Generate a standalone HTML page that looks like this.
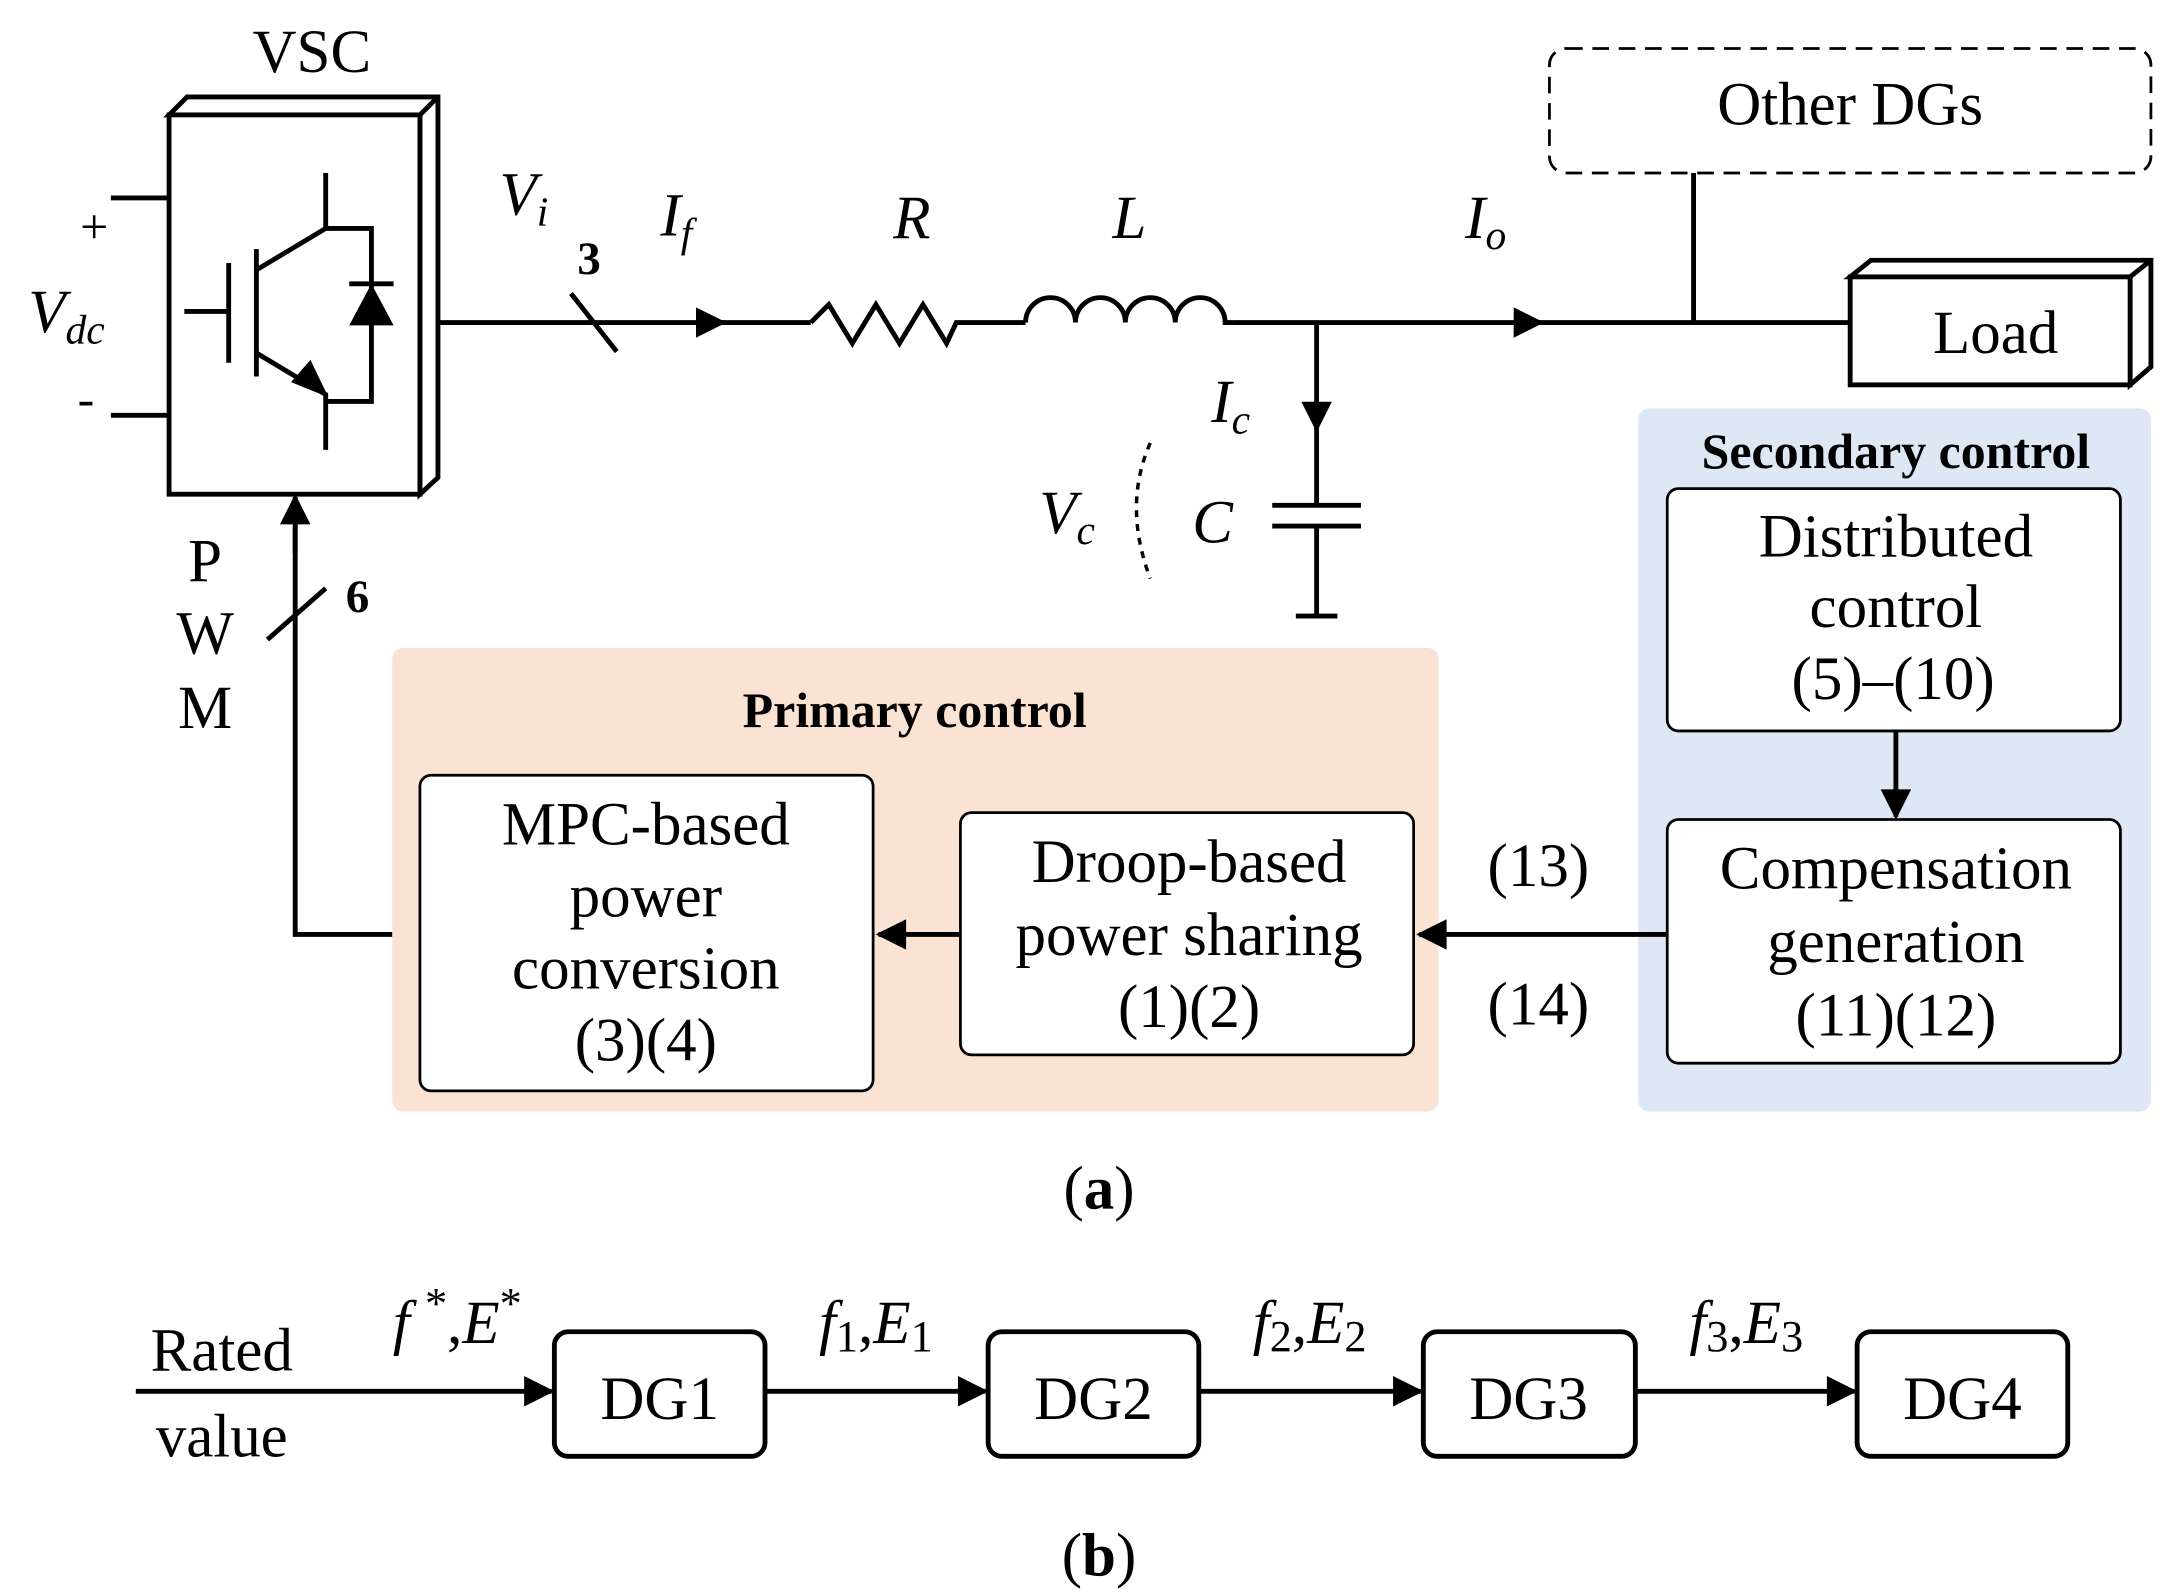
<!DOCTYPE html>
<html><head><meta charset="utf-8"><style>
html,body{margin:0;padding:0;background:#fff}
svg{display:block}
text{font-family:"Liberation Serif",serif;fill:#000}
</style></head><body>
<svg width="2162" height="1592" viewBox="0 0 1560 1150" preserveAspectRatio="none" xmlns="http://www.w3.org/2000/svg">
<defs>
<marker id="ar" viewBox="0 0 10 10" refX="9" refY="5" markerWidth="26" markerHeight="22" markerUnits="userSpaceOnUse" orient="auto"><path d="M0,0 L10,5 L0,10 z"/></marker>
</defs>
<g stroke="#000" stroke-width="3.5" fill="none">
<polygon points="122,83 135,70 316,70 316,345 303,357 303,83" fill="#fff"/>
<rect x="122" y="83" width="181" height="274" fill="#fff"/>
<line x1="303" y1="83" x2="316" y2="70"/>
<line x1="80" y1="143" x2="122" y2="143"/>
<line x1="80" y1="300" x2="122" y2="300"/>
<line x1="133" y1="225" x2="165" y2="225"/>
<line x1="165" y1="190" x2="165" y2="262"/>
<line x1="185" y1="180" x2="185" y2="272"/>
<polyline points="185,195 235,165 235,125"/>
<polyline points="185,255 235,285 235,325"/>
<polyline points="235,165 268,165 268,290 235,290"/>
<line x1="252" y1="205" x2="284" y2="205"/>
</g>
<polygon points="252,235 284,235 268,205" fill="#000"/>
<polygon points="237,287 210,276 224,260" fill="#000"/>
<g stroke="#000" stroke-width="3.5" fill="none">
<line x1="316" y1="233" x2="522" y2="233" marker-end="url(#ar)"/>
<line x1="515" y1="233" x2="585" y2="233"/>
<line x1="412" y1="212" x2="445" y2="254"/>
<polyline points="585,233 598,220 615,248 632,220 649,248 666,220 683,248 690,233 740,233"/>
<path d="M740,233 a18,18 0 0 1 36,0 a18,18 0 0 1 36,0 a18,18 0 0 1 36,0 a18,18 0 0 1 36,0 L890,233"/>
<line x1="890" y1="233" x2="1112" y2="233" marker-end="url(#ar)"/>
<line x1="1105" y1="233" x2="1335" y2="233"/>
<line x1="950" y1="233" x2="950" y2="310" marker-end="url(#ar)"/>
<line x1="950" y1="305" x2="950" y2="365"/>
<line x1="918" y1="365" x2="982" y2="365"/>
<line x1="918" y1="380" x2="982" y2="380"/>
<line x1="950" y1="380" x2="950" y2="445"/>
<line x1="935" y1="445" x2="965" y2="445"/>
<path d="M830,320 Q810,365 830,418" stroke-dasharray="5,5" stroke-width="2.5"/>
<rect x="1118" y="35" width="434" height="90" rx="12" stroke-dasharray="12,7" stroke-width="2"/>
<line x1="1222" y1="125" x2="1222" y2="233"/>
<polygon points="1335,200 1350,188 1552,188 1552,265 1537,278 1537,200" fill="#fff"/>
<rect x="1335" y="200" width="202" height="78" fill="#fff"/>
<line x1="1537" y1="200" x2="1552" y2="188"/>
</g>
<rect x="1182" y="295" width="370" height="508" rx="8" fill="#dde8f4"/>
<rect x="283" y="468" width="755" height="335" rx="8" fill="#fae3d3"/>
<g stroke="#000" stroke-width="2" fill="#fff">
<rect x="1203" y="353" width="327" height="175" rx="8"/>
<rect x="1203" y="592" width="327" height="176" rx="8"/>
<rect x="303" y="560" width="327" height="228" rx="8"/>
<rect x="693" y="587" width="327" height="175" rx="8"/>
</g>
<g stroke="#000" stroke-width="3.5" fill="none">
<line x1="1368" y1="528" x2="1368" y2="590" marker-end="url(#ar)"/>
<line x1="1203" y1="675" x2="1024" y2="675" marker-end="url(#ar)"/>
<line x1="693" y1="675" x2="634" y2="675" marker-end="url(#ar)"/>
<polyline points="283,675 213,675 213,380"/>
<line x1="213" y1="400" x2="213" y2="359" marker-end="url(#ar)"/>
<line x1="193" y1="462" x2="235" y2="425"/>
<line x1="98" y1="1005" x2="398" y2="1005" marker-end="url(#ar)"/>
<line x1="552" y1="1005" x2="711" y2="1005" marker-end="url(#ar)"/>
<line x1="865" y1="1005" x2="1025" y2="1005" marker-end="url(#ar)"/>
<line x1="1180" y1="1005" x2="1338" y2="1005" marker-end="url(#ar)"/>
<rect x="400" y="962" width="152" height="90" rx="10"/>
<rect x="713" y="962" width="152" height="90" rx="10"/>
<rect x="1027" y="962" width="153" height="90" rx="10"/>
<rect x="1340" y="962" width="152" height="90" rx="10"/>
</g>
<g font-size="44" text-anchor="middle">
<text x="225" y="52">VSC</text>
<text x="68" y="176" font-size="36">+</text>
<text x="62" y="300" font-size="36">-</text>
<text x="48" y="240" font-style="italic">V<tspan font-size="30" dy="8">dc</tspan></text>
<text x="378" y="155" font-style="italic">V<tspan font-size="30" dy="8">i</tspan></text>
<text x="425" y="198" font-size="34" font-weight="bold">3</text>
<text x="488" y="170" font-style="italic">I<tspan font-size="30" dy="8">f</tspan></text>
<text x="658" y="172" font-style="italic">R</text>
<text x="815" y="172" font-style="italic">L</text>
<text x="1072" y="172" font-style="italic">I<tspan font-size="30" dy="8">o</tspan></text>
<text x="888" y="305" font-style="italic">I<tspan font-size="30" dy="8">c</tspan></text>
<text x="770" y="385" font-style="italic">V<tspan font-size="30" dy="8">c</tspan></text>
<text x="875" y="392" font-style="italic">C</text>
<text x="1335" y="90">Other DGs</text>
<text x="1440" y="255">Load</text>
<text x="1368" y="338" font-size="36" font-weight="bold">Secondary control</text>
<text x="1368" y="402">Distributed</text>
<text x="1368" y="453">control</text>
<text x="1366" y="505">(5)–(10)</text>
<text x="1368" y="642">Compensation</text>
<text x="1368" y="695">generation</text>
<text x="1368" y="748">(11)(12)</text>
<text x="660" y="525" font-size="36" font-weight="bold">Primary control</text>
<text x="466" y="610">MPC-based</text>
<text x="466" y="662">power</text>
<text x="466" y="714">conversion</text>
<text x="466" y="766">(3)(4)</text>
<text x="858" y="637">Droop-based</text>
<text x="858" y="690">power sharing</text>
<text x="858" y="742">(1)(2)</text>
<text x="1110" y="640">(13)</text>
<text x="1110" y="740">(14)</text>
<text x="148" y="420">P</text>
<text x="148" y="472">W</text>
<text x="148" y="526">M</text>
<text x="258" y="442" font-size="34" font-weight="bold">6</text>
<text x="793" y="873">(<tspan font-weight="bold">a</tspan>)</text>
<text x="160" y="990">Rated</text>
<text x="160" y="1052">value</text>
<text x="330" y="970" font-style="italic">f <tspan font-style="normal" font-size="32" dy="-18">*</tspan><tspan font-style="normal" dy="18">,</tspan>E<tspan font-style="normal" font-size="32" dy="-18">*</tspan></text>
<text x="632" y="970" font-style="italic">f<tspan font-style="normal" font-size="32" dy="6">1</tspan><tspan font-style="normal" dy="-6">,</tspan>E<tspan font-style="normal" font-size="32" dy="6">1</tspan></text>
<text x="945" y="970" font-style="italic">f<tspan font-style="normal" font-size="32" dy="6">2</tspan><tspan font-style="normal" dy="-6">,</tspan>E<tspan font-style="normal" font-size="32" dy="6">2</tspan></text>
<text x="1260" y="970" font-style="italic">f<tspan font-style="normal" font-size="32" dy="6">3</tspan><tspan font-style="normal" dy="-6">,</tspan>E<tspan font-style="normal" font-size="32" dy="6">3</tspan></text>
<text x="476" y="1025">DG1</text>
<text x="789" y="1025">DG2</text>
<text x="1103" y="1025">DG3</text>
<text x="1416" y="1025">DG4</text>
<text x="793" y="1138">(<tspan font-weight="bold">b</tspan>)</text>
</g>
</svg>
</body></html>
